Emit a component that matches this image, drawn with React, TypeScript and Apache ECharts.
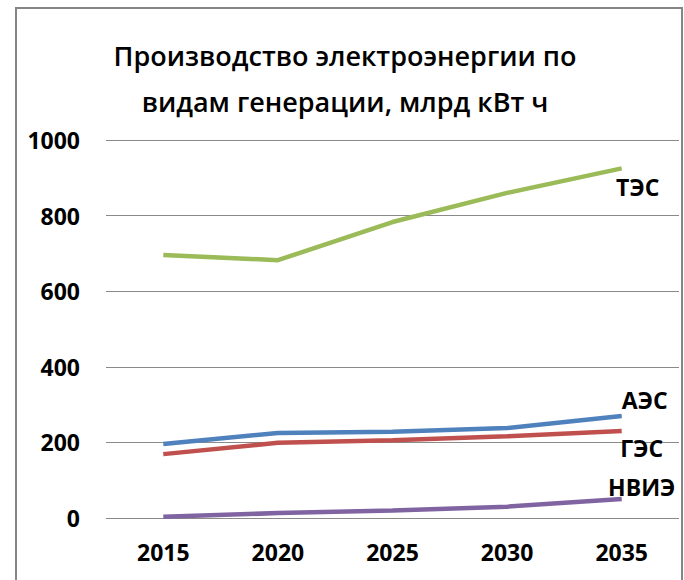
import React, { useEffect, useRef } from "react";
import * as echarts from "echarts";

const years = ["2015", "2020", "2025", "2030", "2035"];
const tes = [696, 682, 783, 860, 925];
const aes = [196, 225, 228, 238, 270];
const ges = [169, 199, 206, 216, 230];
const nvie = [3, 13, 20, 30, 50];
const seriesNames = ["ТЭС", "АЭС", "ГЭС", "НВИЭ"];
const colors = ["#9BBB59", "#4F81BD", "#C0504D", "#8064A2"];
const titleText = "Производство электроэнергии по\nвидам генерации, млрд кВт ч";

const FONT = "'Open Sans', 'Noto Sans', sans-serif";

export default function App() {
  const ref = useRef<HTMLDivElement>(null);
  useEffect(() => {
    if (!ref.current) return;
    const chart = echarts.init(ref.current, null, { renderer: "svg" });
    const allData = [tes, aes, ges, nvie];
    const offsets: [number, number][] = [
      [16, 19],
      [23, -16],
      [20, 17],
      [20, -12],
    ];
    const series = allData.map((d, si) => ({
      name: seriesNames[si],
      type: "line",
      data: d,
      showSymbol: false,
      symbol: "none",
      lineStyle: { color: colors[si], width: 4.5 },
      itemStyle: { color: colors[si] },
      endLabel: {
        show: true,
        formatter: seriesNames[si],
        distance: 0,
        align: "center",
        verticalAlign: "middle",
        offset: offsets[si],
        color: "#000",
        fontSize: 23,
        fontWeight: "bold",
        fontFamily: FONT,
      },
      z: 3,
    }));
    chart.setOption({
      animation: false,
      backgroundColor: "#fff",
      title: {
        text: titleText,
        left: 340,
        top: 27,
        textAlign: "center",
        textStyle: {
          fontFamily: FONT,
          fontSize: 27,
          fontWeight: 600,
          color: "#000",
          lineHeight: 46,
        },
      },
      grid: { left: 106, right: 5, top: 140, bottom: 62, containLabel: false },
      xAxis: {
        type: "category",
        data: years,
        boundaryGap: true,
        axisLine: { show: false },
        axisTick: { show: false },
        axisLabel: {
          color: "#000",
          fontSize: 23,
          fontWeight: "bold",
          fontFamily: FONT,
          margin: 22,
        },
      },
      yAxis: {
        type: "value",
        min: 0,
        max: 1000,
        interval: 200,
        axisLine: { show: false },
        axisTick: { show: false },
        splitLine: { lineStyle: { color: "#8a8a8a", width: 1 } },
        axisLabel: {
          color: "#000",
          fontSize: 23,
          fontWeight: "bold",
          fontFamily: FONT,
          margin: 26,
          formatter: (v: number) => String(v),
        },
      },
      graphic: [
        {
          type: "rect",
          shape: { x: 16, y: 8, width: 666, height: 600 },
          style: { fill: "none", stroke: "#858585", lineWidth: 2 },
          silent: true,
          z: -1,
        },
      ],
      series,
    });
    return () => chart.dispose();
  }, []);
  return (
    <div
      ref={ref}
      style={{ position: "fixed", left: 0, top: 0, width: 684, height: 580 }}
    />
  );
}
